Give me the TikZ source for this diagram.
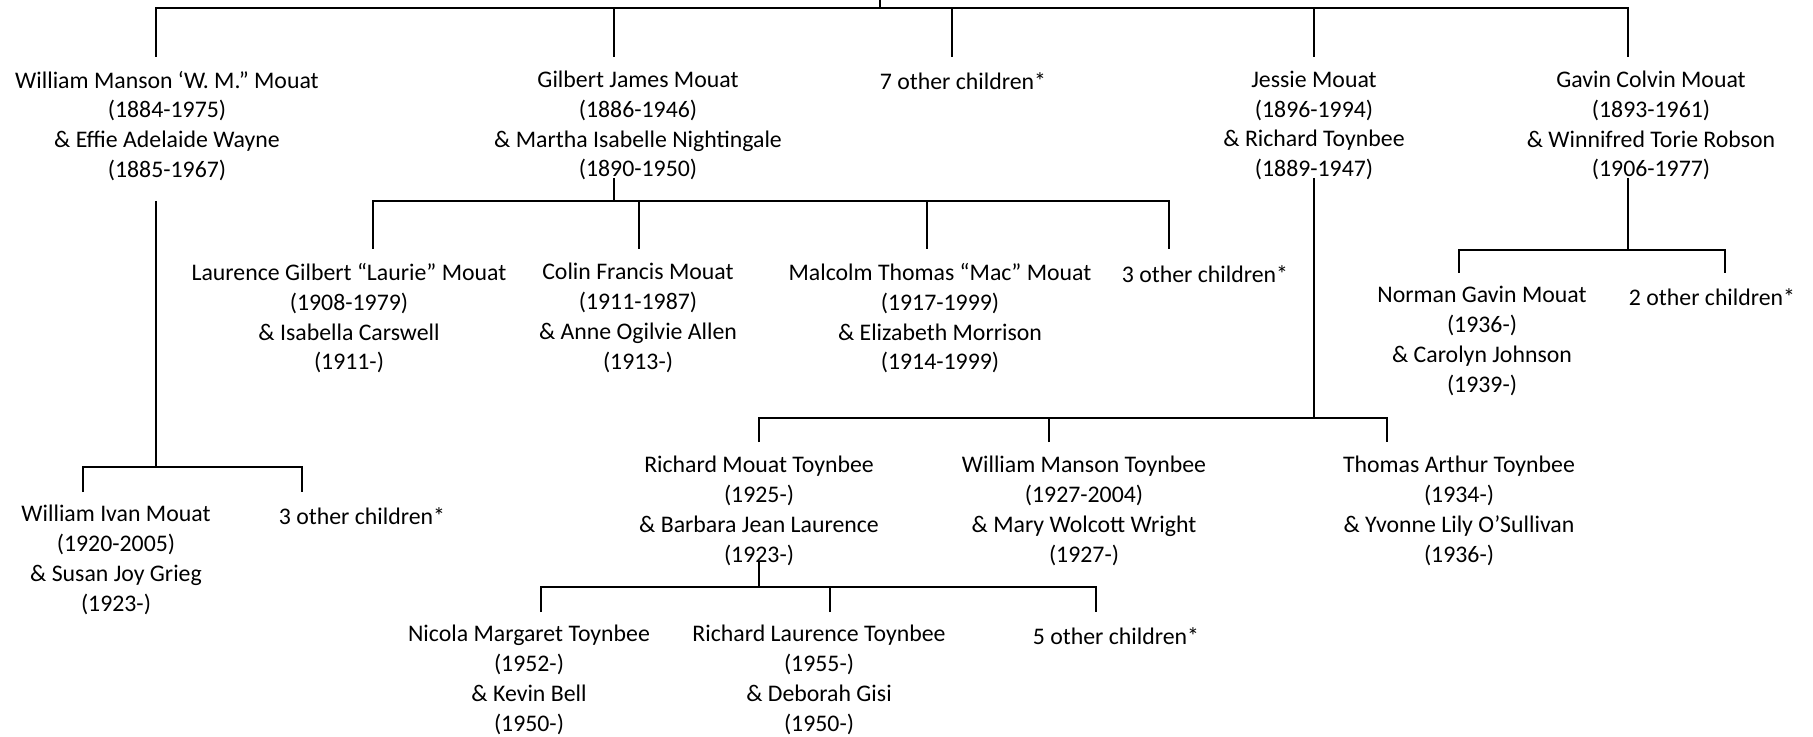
\documentclass[tikz,border=0pt]{standalone}
\usepackage{fontspec}
\setmainfont{Carlito}
\begin{document}
\begin{tikzpicture}[x=0.5pt,y=-0.5pt,
  person/.style={anchor=north, align=center, inner sep=0pt,
    font=\fontsize{11.9}{14.9}\selectfont,
    execute at begin node={\rule{0pt}{0.8em}}},
  link/.style={draw=black, line width=1pt}]
\useasboundingbox (0,0) rectangle (1813,737);

% ---------- generation 1 ----------
\node[person] (wm) at (167,70.5) {William Manson ‘W. M.” Mouat\\(1884-1975)\\\& Effie Adelaide Wayne\\(1885-1967)};
\node[person] (gj) at (638,70.5) {Gilbert James Mouat\\(1886-1946)\\\& Martha Isabelle Nightingale\\(1890-1950)};
\node[person] (o7) at (963,70.5) {7 other children*};
\node[person] (jm) at (1314,70.5) {Jessie Mouat\\(1896-1994)\\\& Richard Toynbee\\(1889-1947)};
\node[person] (gc) at (1651,70.5) {Gavin Colvin Mouat\\(1893-1961)\\\& Winnifred Torie Robson\\(1906-1977)};

% ---------- generation 2 ----------
\node[person] (lg) at (349,263) {Laurence Gilbert “Laurie” Mouat\\(1908-1979)\\\& Isabella Carswell\\(1911-)};
\node[person] (cf) at (638,263) {Colin Francis Mouat\\(1911-1987)\\\& Anne Ogilvie Allen\\(1913-)};
\node[person] (mt) at (940,263) {Malcolm Thomas “Mac” Mouat\\(1917-1999)\\\& Elizabeth Morrison\\(1914-1999)};
\node[person] (o3a) at (1205,263) {3 other children*};
\node[person] (ng) at (1482,286) {Norman Gavin Mouat\\(1936-)\\\& Carolyn Johnson\\(1939-)};
\node[person] (o2) at (1712,286) {2 other children*};
\node[person] (rm) at (759,456) {Richard Mouat Toynbee\\(1925-)\\\& Barbara Jean Laurence\\(1923-)};
\node[person] (wmt) at (1084,456) {William Manson Toynbee\\(1927-2004)\\\& Mary Wolcott Wright\\(1927-)};
\node[person] (ta) at (1459,456) {Thomas Arthur Toynbee\\(1934-)\\\& Yvonne Lily O’Sullivan\\(1936-)};
\node[person] (wi) at (116,505) {William Ivan Mouat\\(1920-2005)\\\& Susan Joy Grieg\\(1923-)};
\node[person] (o3b) at (362,505) {3 other children*};

% ---------- generation 3 ----------
\node[person] (nm) at (529,625) {Nicola Margaret Toynbee\\(1952-)\\\& Kevin Bell\\(1950-)};
\node[person] (rl) at (819,625) {Richard Laurence Toynbee\\(1955-)\\\& Deborah Gisi\\(1950-)};
\node[person] (o5) at (1116,625) {5 other children*};

% ---------- connector points ----------
\coordinate (root) at (880,0);
\coordinate (rootbus) at (880,8);
\coordinate (t-wm) at (156,57);
\coordinate (t-gj) at (614,57);
\coordinate (t-o7) at (952,57);
\coordinate (t-jm) at (1314,57);
\coordinate (t-gc) at (1628,57);

\coordinate (b-wm) at (156,201);
\coordinate (bus-wm) at (156,467);
\coordinate (t-wi) at (83,492);
\coordinate (t-o3b) at (302,492);

\coordinate (b-gj) at (614,178);
\coordinate (bus-gj) at (614,201);
\coordinate (t-lg) at (373,249);
\coordinate (t-cf) at (639,249);
\coordinate (t-mt) at (927,249);
\coordinate (t-o3a) at (1169,249);

\coordinate (b-jm) at (1314,178);
\coordinate (bus-jm) at (1314,418);
\coordinate (t-rm) at (759,442);
\coordinate (t-wmt) at (1049,442);
\coordinate (t-ta) at (1387,442);

\coordinate (b-gc) at (1628,178);
\coordinate (bus-gc) at (1628,250);
\coordinate (t-ng) at (1459,273);
\coordinate (t-o2) at (1725,273);

\coordinate (b-rm) at (759,562);
\coordinate (bus-rm) at (759,587);
\coordinate (t-nm) at (541,612);
\coordinate (t-rl) at (830,612);
\coordinate (t-o5) at (1096,612);

% ---------- connectors ----------
\draw[link] (root) -- (rootbus);
\draw[link] (t-wm) |- (t-gc |- rootbus) -- (t-gc);
\draw[link] (t-gj) -- (t-gj |- rootbus);
\draw[link] (t-o7) -- (t-o7 |- rootbus);
\draw[link] (t-jm) -- (t-jm |- rootbus);

\draw[link] (b-wm) -- (bus-wm);
\draw[link] (t-wi) |- (t-o3b |- bus-wm) -- (t-o3b);

\draw[link] (b-gj) -- (bus-gj);
\draw[link] (t-lg) |- (t-o3a |- bus-gj) -- (t-o3a);
\draw[link] (t-cf) -- (t-cf |- bus-gj);
\draw[link] (t-mt) -- (t-mt |- bus-gj);

\draw[link] (b-jm) -- (bus-jm);
\draw[link] (t-rm) |- (t-ta |- bus-jm) -- (t-ta);
\draw[link] (t-wmt) -- (t-wmt |- bus-jm);

\draw[link] (b-gc) -- (bus-gc);
\draw[link] (t-ng) |- (t-o2 |- bus-gc) -- (t-o2);

\draw[link] (b-rm) -- (bus-rm);
\draw[link] (t-nm) |- (t-o5 |- bus-rm) -- (t-o5);
\draw[link] (t-rl) -- (t-rl |- bus-rm);
\end{tikzpicture}
\end{document}
